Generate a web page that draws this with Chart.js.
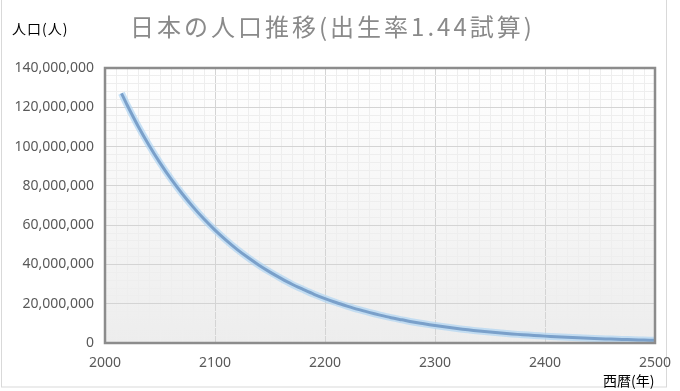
<!DOCTYPE html>
<html>
<head>
<meta charset="utf-8">
<script src="https://cdn.jsdelivr.net/npm/chart.js@4/dist/chart.umd.min.js"></script>
<style>
  html, body { margin: 0; padding: 0; background: #fff; }
  #wrap { width: 680px; height: 391px; position: relative; }
</style>
</head>
<body>
<div id="wrap"><canvas id="chart"></canvas></div>
<script>
// データ（出生率1.44試算）
var years = [2015, 2020, 2030, 2040, 2050, 2060, 2070, 2080, 2090, 2100,
  2110, 2120, 2130, 2140, 2150, 2160, 2170, 2180, 2190, 2200,
  2210, 2220, 2230, 2240, 2250, 2260, 2270, 2280, 2290, 2300,
  2310, 2320, 2330, 2340, 2350, 2360, 2370, 2380, 2390, 2400,
  2410, 2420, 2430, 2440, 2450, 2460, 2470, 2480, 2490, 2500];
var population = [127100000, 121300000, 110500000, 100700000, 91700000, 83500000, 76100000, 69300000, 63100000, 57500000,
  52400000, 47700000, 43500000, 39600000, 36100000, 32900000, 29900000, 27300000, 24800000, 22600000,
  20600000, 18800000, 17100000, 15600000, 14200000, 12900000, 11800000, 10700000, 9800000, 8900000,
  8100000, 7400000, 6700000, 6100000, 5600000, 5100000, 4600000, 4200000, 3840000, 3500000,
  3190000, 2910000, 2650000, 2410000, 2200000, 2000000, 1820000, 1660000, 1510000, 1370000];
var yTicks = [0, 20000000, 40000000, 60000000, 80000000, 100000000, 120000000, 140000000];
var xTicks = [2000, 2100, 2200, 2300, 2400, 2500];

var chartTitle = "日本の人口推移(出生率1.44試算)";
var yAxisTitle = "人口(人)";
var xAxisTitle = "西暦(年)";

var points = years.map(function (y, i) { return { x: y, y: population[i] }; });

// 背景・枠・テキスト
var decoPlugin = {
  id: "deco",
  beforeDraw: function (chart) {
    var c = chart.ctx, a = chart.chartArea;
    c.save();
    var g = c.createLinearGradient(0, a.top, 0, a.bottom);
    g.addColorStop(0, "#ffffff");
    g.addColorStop(1, "#ededed");
    c.fillStyle = g;
    c.fillRect(a.left, a.top, a.right - a.left, a.bottom - a.top);
    c.strokeStyle = "#d9d9d9";
    c.lineWidth = 1;
    c.strokeRect(1.5, -2, 665, 389);
    c.restore();
  },
  afterDraw: function (chart) {
    var c = chart.ctx, a = chart.chartArea;
    c.save();
    c.strokeStyle = "#8c8c8c";
    c.lineWidth = 2.5;
    c.strokeRect(a.left, a.top, a.right - a.left, a.bottom - a.top);

    c.textBaseline = "middle";
    c.textAlign = "left";
    c.fillStyle = "#8a8a8a";
    c.font = "24px 'Noto Sans CJK JP'";
    c.letterSpacing = "3px";
    c.fillText(chartTitle, 130, 27);

    c.fillStyle = "#000000";
    c.font = "14px 'Noto Sans CJK JP'";
    c.letterSpacing = "1px";
    c.fillText(yAxisTitle, 12, 29);
    c.letterSpacing = "0px";
    c.fillText(xAxisTitle, 603, 381);
    c.restore();
  }
};

var ctx = document.getElementById("chart").getContext("2d");
var myChart = new Chart(ctx, {
  type: "line",
  data: {
    datasets: [{
      label: "人口",
      data: points,
      borderColor: "#7aa0ca",
      borderWidth: 3,
      pointRadius: 0,
      tension: 0.3,
      fill: false,
      order: 0
    }, {
      label: "glow",
      data: points,
      borderColor: "rgba(175, 212, 242, 0.7)",
      borderWidth: 7,
      pointRadius: 0,
      tension: 0.3,
      fill: false,
      order: 1
    }]
  },
  options: {
    responsive: true,
    maintainAspectRatio: false,
    animation: false,
    layout: { padding: { top: 68, right: 25, left: 0, bottom: 0 } },
    plugins: {
      legend: { display: false },
      tooltip: { enabled: false },
      title: { display: false }
    },
    scales: {
      x: {
        type: "linear",
        min: xTicks[0],
        max: xTicks[xTicks.length - 1],
        afterFit: function (s) { s.height = 48; s.paddingLeft = 0; s.paddingRight = 0; },
        border: { display: false },
        grid: {
          drawTicks: false,
          color: function (c) { return c.tick && c.tick.value % 100 === 0 ? "#d4d4d4" : "#eeeeee"; }
        },
        ticks: {
          stepSize: 10,
          autoSkip: false,
          maxRotation: 0,
          padding: 12,
          color: "#595959",
          font: { family: "'Noto Sans'", size: 14 },
          callback: function (v) { return xTicks.indexOf(v) >= 0 ? String(v) : ""; }
        }
      },
      y: {
        min: yTicks[0],
        max: yTicks[yTicks.length - 1],
        afterFit: function (s) { s.width = 105; s.paddingTop = 0; s.paddingBottom = 0; },
        border: { display: false },
        grid: {
          drawTicks: false,
          color: function (c) { return c.tick && c.tick.value % 20000000 === 0 ? "#d4d4d4" : "#eeeeee"; }
        },
        ticks: {
          stepSize: 4000000,
          autoSkip: false,
          padding: 11,
          color: "#595959",
          font: { family: "'Noto Sans'", size: 14 },
          callback: function (v) { return yTicks.indexOf(v) >= 0 ? v.toLocaleString("en-US") : ""; }
        }
      }
    }
  },
  plugins: [decoPlugin]
});
</script>
</body>
</html>
